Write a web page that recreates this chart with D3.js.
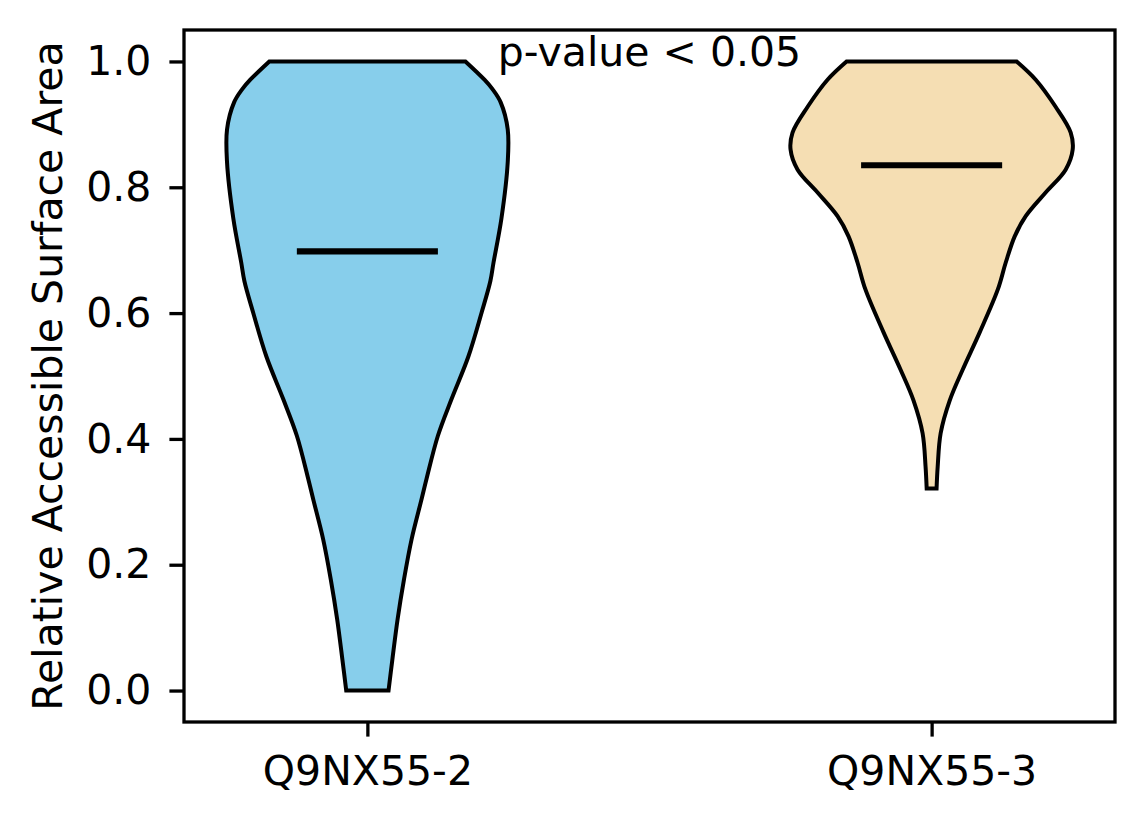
<!DOCTYPE html>
<html>
<head>
<meta charset="utf-8">
<script src="https://cdn.jsdelivr.net/npm/d3@7"></script>
<style>
  body { margin: 0; background: #fff; }
  text { font-family: "DejaVu Sans", sans-serif; }
</style>
</head>
<body>
<div class="chart-container"></div>
<script>
// categories and summary values
const categories = ["Q9NX55-2", "Q9NX55-3"];
const positions = [1, 2];
const medians = [0.698, 0.835];
const colors = ["#87CEEB", "#F5DEB3"];
const yTicks = [0, 0.2, 0.4, 0.6, 0.8, 1.0];
const pLabel = "p-value < 0.05";

// density outline of each violin: [value, relative width]
const profile1 = [
  [0.0, 0.15], [0.049, 0.177], [0.113, 0.214], [0.176, 0.259], [0.24, 0.313],
  [0.304, 0.384], [0.337, 0.42], [0.405, 0.50], [0.463, 0.596], [0.531, 0.716],
  [0.601, 0.81], [0.651, 0.872], [0.68, 0.894], [0.75, 0.95], [0.84, 0.995],
  [0.892, 0.995], [0.935, 0.945], [0.956, 0.887], [0.971, 0.83], [1.0, 0.695]
];
const profile2 = [
  [0.321, 0.035], [0.356, 0.043], [0.409, 0.064], [0.461, 0.128], [0.51, 0.22],
  [0.569, 0.34], [0.638, 0.47], [0.68, 0.525], [0.722, 0.589], [0.754, 0.667],
  [0.792, 0.81], [0.828, 0.95], [0.86, 1.0], [0.887, 0.986], [0.928, 0.879],
  [0.971, 0.738], [1.0, 0.603]
];
const profiles = [profile1, profile2];

// svg container
const W = 1144, H = 824;
const m = {left: 184, right: 29, top: 30, bottom: 102};
const svg = d3.select(".chart-container").append("svg").attr("width", W).attr("height", H);

const x = d3.scaleLinear().domain([0.675, 2.325]).range([m.left, W - m.right]);
const y = d3.scaleLinear().domain([-0.05, 1.05]).range([H - m.bottom, m.top]);
const halfWidth = 0.25; // widths=0.5 in data units

// violins
positions.forEach((p, i) => {
  const area = d3.area()
    .curve(d3.curveCatmullRom)
    .y(d => y(d[0]))
    .x0(d => x(p - d[1] * halfWidth))
    .x1(d => x(p + d[1] * halfWidth));
  svg.append("path")
    .datum(profiles[i])
    .attr("d", area)
    .attr("fill", colors[i])
    .attr("stroke", "black")
    .attr("stroke-width", 4)
    .attr("stroke-linejoin", "miter");
  // median
  svg.append("line")
    .attr("x1", x(p - halfWidth / 2)).attr("x2", x(p + halfWidth / 2))
    .attr("y1", y(medians[i])).attr("y2", y(medians[i]))
    .attr("stroke", "black").attr("stroke-width", 6.2);
});

// axes
const yAxis = d3.axisLeft(y).tickValues(yTicks).tickFormat(d3.format(".1f"))
  .tickSize(14.6).tickPadding(18).tickSizeOuter(0);
const yG = svg.append("g").attr("transform", `translate(${m.left},0)`).call(yAxis);

const xAxis = d3.axisBottom(x).tickValues(positions).tickFormat((d, i) => categories[i])
  .tickSize(14.6).tickPadding(19).tickSizeOuter(0);
const xG = svg.append("g").attr("transform", `translate(0,${H - m.bottom})`).call(xAxis);

[yG, xG].forEach(g => {
  g.select(".domain").remove();
  g.selectAll(".tick line").attr("stroke", "black").attr("stroke-width", 3.3);
  g.selectAll(".tick text").attr("fill", "black").style("font-size", "41px")
    .style("font-family", "'DejaVu Sans', sans-serif");
});

// frame
svg.append("rect")
  .attr("x", m.left).attr("y", m.top)
  .attr("width", W - m.right - m.left).attr("height", H - m.bottom - m.top)
  .attr("fill", "none").attr("stroke", "black").attr("stroke-width", 3.3);

// y label
svg.append("text")
  .attr("transform", `translate(62,${(m.top + H - m.bottom) / 2}) rotate(-90)`)
  .attr("text-anchor", "middle")
  .style("font-size", "41px")
  .text("Relative Accessible Surface Area");

// annotation
svg.append("text")
  .attr("x", x(1.5)).attr("y", y(1.0) + 5)
  .attr("text-anchor", "middle")
  .style("font-size", "41px")
  .text(pLabel);
</script>
</body>
</html>
